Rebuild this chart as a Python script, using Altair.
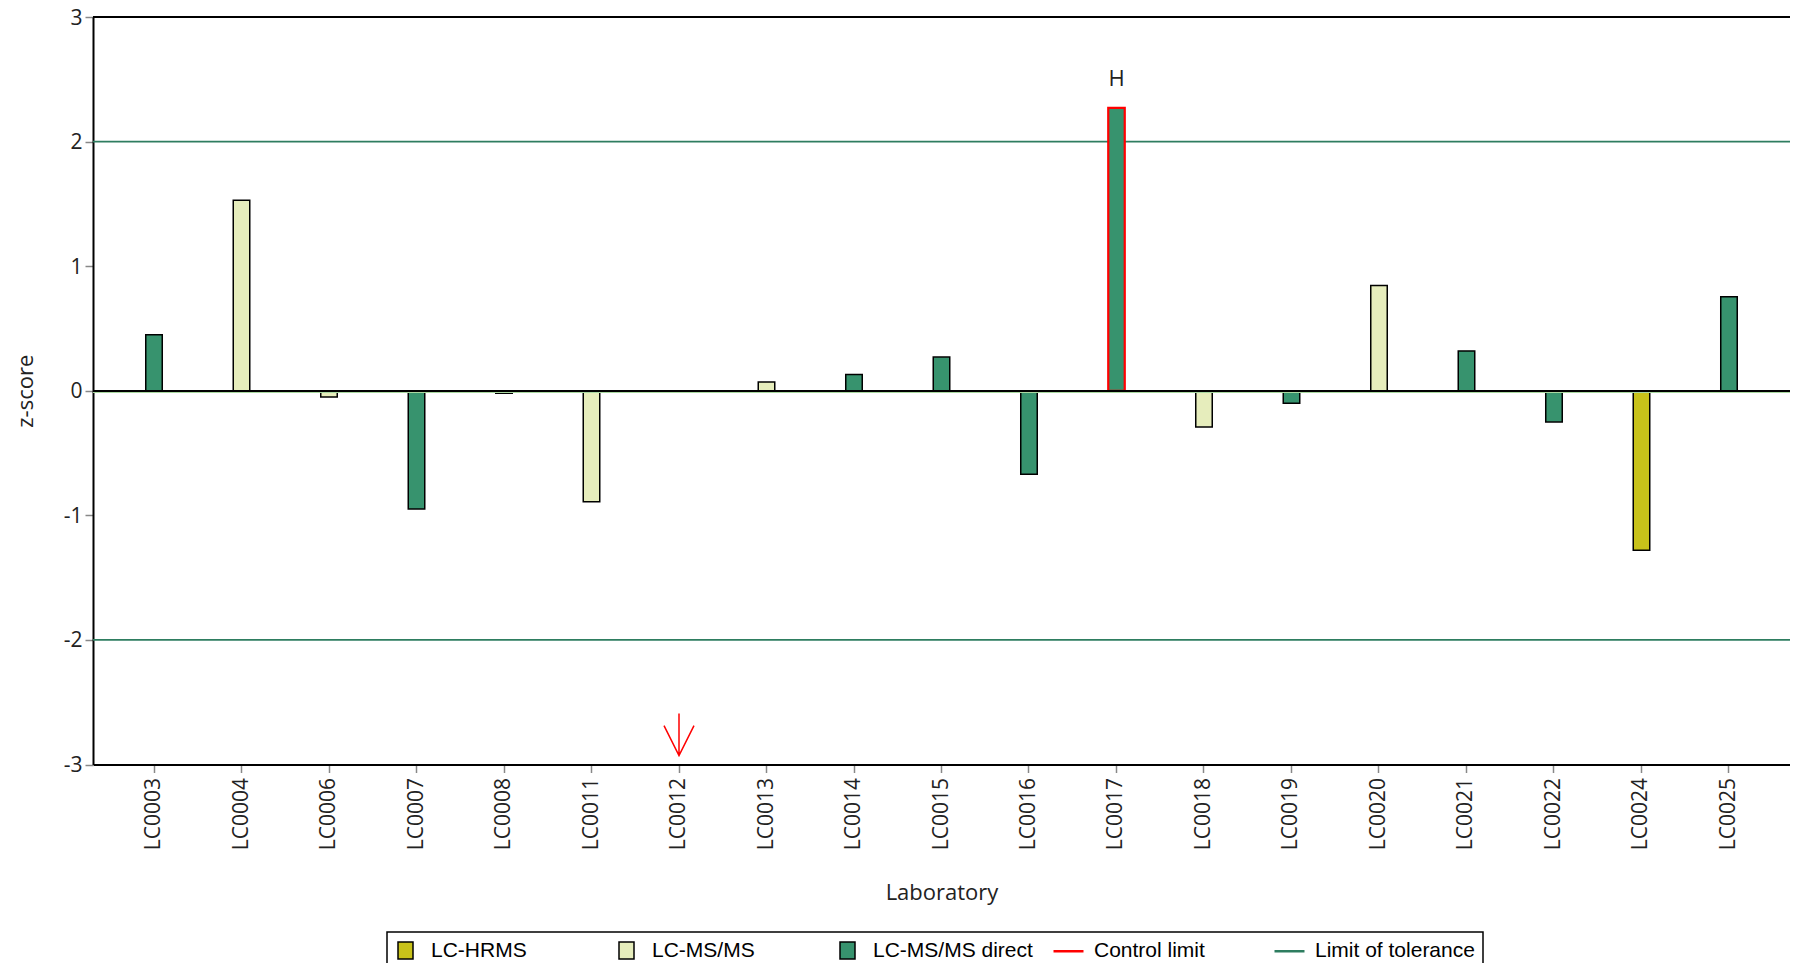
import altair as alt
import pandas as pd

# ---- data ----
labs = ["LC0003", "LC0004", "LC0006", "LC0007", "LC0008", "LC0011", "LC0012",
        "LC0013", "LC0014", "LC0015", "LC0016", "LC0017", "LC0018", "LC0019",
        "LC0020", "LC0021", "LC0022", "LC0024", "LC0025"]
methods = ["LC-MS/MS direct", "LC-MS/MS", "LC-MS/MS", "LC-MS/MS direct", "LC-MS/MS direct",
           "LC-MS/MS", None, "LC-MS/MS", "LC-MS/MS direct", "LC-MS/MS direct",
           "LC-MS/MS direct", "LC-MS/MS direct", "LC-MS/MS", "LC-MS/MS direct",
           "LC-MS/MS", "LC-MS/MS direct", "LC-MS/MS direct", "LC-HRMS", "LC-MS/MS direct"]
zscores = [0.45, 1.53, -0.05, -0.95, -0.02, -0.89, None, 0.07, 0.13, 0.27,
           -0.67, 2.27, -0.29, -0.10, 0.845, 0.32, -0.25, -1.28, 0.755]
flags = ["", "", "", "", "", "", "", "", "", "", "", "H", "", "", "", "", "", "", ""]

# off-scale (below -3) marker
arrow_labs = ["LC0012"]
arrow_z = [-2.76]

tolerance = [-2, 2]
y_ticks = [-3, -2, -1, 0, 1, 2, 3]

legend_domain = ["LC-HRMS", "LC-MS/MS", "LC-MS/MS direct", "Control limit", "Limit of tolerance"]
legend_colors = ["#C8C21A", "#E6EDBC", "#37936E", "#FF0000", "#2E7D60"]

df = pd.DataFrame({"lab": labs, "method": methods, "z": zscores, "flag": flags})
arrows = pd.DataFrame({"lab": arrow_labs, "z": arrow_z})
limits = pd.DataFrame({"limit": tolerance})

FONT = "Open Sans"

x_scale = alt.Scale(domain=labs, paddingInner=0.8114, paddingOuter=0.6029)
x_enc = alt.X(
    "lab:N",
    sort=labs,
    scale=x_scale,
    title="Laboratory",
    axis=alt.Axis(
        labelAngle=-90, labelPadding=5, labelFont=FONT, labelFontSize=21,
        labelColor="#222222", tickColor="#888888", tickSize=8, tickWidth=1.5,
        domainColor="#000000", domainWidth=2, grid=False, labelOverlap=False,
        titleFont=FONT, titleFontSize=22, titleFontWeight="normal",
        titleColor="#222222", titlePadding=33,
    ),
)

y_scale = alt.Scale(domain=[-3, 3], nice=False, zero=False)
y_axis = alt.Axis(
    values=y_ticks, labelExpr="datum.value + ''", labelFont=FONT, labelFontSize=21,
    labelColor="#222222", labelPadding=3, labelOffset=1, tickColor="#888888",
    tickSize=8, tickWidth=1.5,
    domainColor="#000000", domainWidth=2, grid=False,
    titleFont=FONT, titleFontSize=22, titleFontWeight="normal",
    titleColor="#222222", titlePadding=26,
)

is_line = "indexof(['Control limit','Limit of tolerance'], datum.value) >= 0"

legend = alt.Legend(
    title=None,
    orient="none",
    legendX=294,
    legendY=915,
    direction="horizontal",
    columns=5,
    gridAlign="all",
    columnPadding=15,
    labelOffset=15,
    padding=8,
    strokeColor="#000000",
    fillColor="#FFFFFF",
    labelFont="Liberation Sans",
    labelFontSize=21,
    labelColor="#000000",
    labelLimit=400,
    symbolSize=400,
    symbolOpacity=1,
    symbolType={"expr": is_line + " ? 'M-1.5,0H1.5' : 'M-0.75,-0.85H0.75V0.85H-0.75Z'"},
    symbolStrokeColor={"expr": "datum.value == 'Control limit' ? '#FF0000' : "
                               "(datum.value == 'Limit of tolerance' ? '#2E7D60' : '#000000')"},
    symbolStrokeWidth={"expr": is_line + " ? 2.5 : 1.5"},
)

tol = alt.Chart(limits).mark_rule(color="#2E7D60", strokeWidth=1.8).encode(
    y=alt.Y("limit:Q", scale=y_scale, axis=y_axis, title="z-score")
)

bars = alt.Chart(df).mark_bar().encode(
    x=x_enc,
    y=alt.Y("z:Q", scale=y_scale, axis=y_axis, title="z-score"),
    color=alt.Color("method:N",
                    scale=alt.Scale(domain=legend_domain, range=legend_colors),
                    legend=legend),
    stroke=alt.condition(alt.datum.flag == "H", alt.value("#FF0000"), alt.value("#000000")),
    strokeWidth=alt.condition(alt.datum.flag == "H", alt.value(2.2), alt.value(1.5)),
)

zero_green = alt.Chart(df).mark_rule(color="#A9D8A0", strokeWidth=1.5, yOffset=1.5).encode(
    y=alt.datum(0)
)
zero_black = alt.Chart(df).mark_rule(color="#000000", strokeWidth=1.6).encode(
    y=alt.datum(0)
)
top_border = alt.Chart(df).mark_rule(color="#000000", strokeWidth=2).encode(
    y=alt.datum(y_ticks[-1])
)

flag_text = alt.Chart(df).transform_filter(alt.datum.flag != "").mark_text(
    font=FONT, fontSize=22, color="#222222", baseline="alphabetic", dy=-22
).encode(
    x=alt.X("lab:N", sort=labs),
    y=alt.Y("z:Q"),
    text="flag:N",
)

arrow = alt.Chart(arrows).mark_point(
    shape="M0,-1L0,1M-0.714,-0.43L0,1L0.714,-0.43",
    size=1764, filled=False, stroke="#FF0000", strokeWidth=1.5, opacity=1,
).encode(
    x=alt.X("lab:N", sort=labs),
    y=alt.Y("z:Q"),
)

chart = alt.layer(tol, bars, zero_green, zero_black, top_border, flag_text, arrow).properties(
    width=1697,
    height=747.5,
    padding={"left": 85, "top": 9, "right": 0, "bottom": 198.5},
    autosize=alt.AutoSizeParams(type="none"),
).configure_view(stroke=None).configure_legend(strokeWidth=1.5, cornerRadius=0)

chart.save("out.html", embed_options={"renderer": "svg", "actions": False})
